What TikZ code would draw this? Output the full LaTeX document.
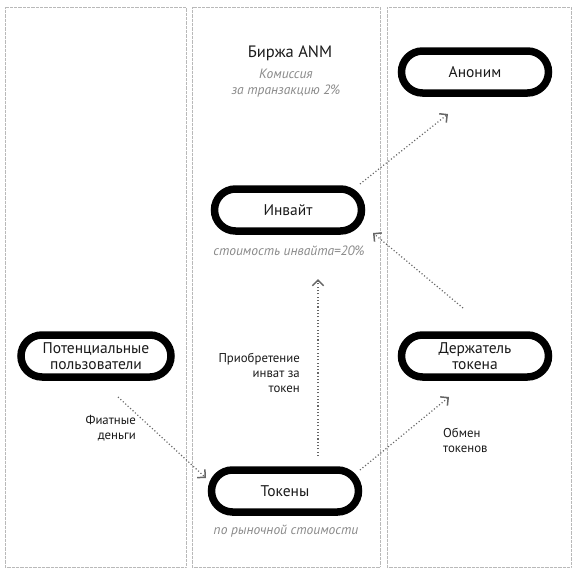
\documentclass[tikz,border=0pt]{standalone}
\usepackage{fontspec}
\setmainfont{PT Sans}
\usetikzlibrary{arrows.meta}
\definecolor{lbl}{HTML}{8A8A8A}
\definecolor{txt}{HTML}{1A1A1A}
\tikzset{
  pill/.style={draw=black, line width=7.5pt, rounded corners=21pt, minimum width=147pt, minimum height=42pt, fill=white, inner sep=0pt, font=\fontsize{15.5}{16}\selectfont, text=txt, align=center},
  colbox/.style={draw=gray!55, line width=0.8pt, dash pattern=on 0.5pt off 0.8pt},
  flow/.style={draw=gray!80!black, line width=1.2pt, dash pattern=on 1.1pt off 2.2pt, -{Straight Barb[angle=90:8pt, line width=1.5pt, sep=0pt]}},
  note/.style={font=\fontsize{13.5}{15.5}\selectfont\itshape, text=lbl, align=center, inner sep=0pt},
  caplabel/.style={font=\fontsize{12.8}{15}\selectfont, text=txt, inner sep=0pt}
}
\begin{document}
\begin{tikzpicture}[x=1pt,y=-1pt]
\useasboundingbox (0,0) rectangle (576,576);
\fill[white] (0,0) rectangle (576,576);
% columns
\draw[colbox] (5,7) rectangle (186,567);
\draw[colbox] (192,7) rectangle (380,567);
\draw[colbox] (387,7) rectangle (571,567);
% nodes
\node[pill] (anon) at (475,72) {Аноним};
\node[pill] (inv) at (288,210) {Инвайт};
\node[pill, minimum width=150pt] (users) at (96,356) {Потенциальные\\пользователи};
\node[pill] (holder) at (475,356) {Держатель\\токена};
\node[pill] (tok) at (285,491) {Токены};
% texts
\node[font=\fontsize{16.5}{18}\selectfont, text=txt, inner sep=0pt] (birzha) at (290,53) {Биржа ANM};
\node[note] (kom) at (286,83) {Комиссия\\за транзакцию 2\%};
\node[note] (invcost) at (289,251) {стоимость инвайта=20\%};
\node[note] (market) at (286,531) {по рыночной стоимости};
\node[caplabel, align=right, anchor=north east] (buy) at (300,353) {Приобретение\\инват за\\токен};
\node[caplabel, align=right, anchor=north east] (fiat) at (136,415) {Фиатные\\деньги};
\node[caplabel, align=left, anchor=north west] (swap) at (443,428) {Обмен\\токенов};
% connector anchors
\coordinate (a1s) at (360,184);
\coordinate (a1e) at (448,114);
\coordinate (a2s) at (463,308);
\coordinate (a2e) at (373,233);
\coordinate (a3s) at (318,456);
\coordinate (a3e) at (318,279);
\coordinate (a4s) at (118,397);
\coordinate (a4e) at (206,478);
\coordinate (a5s) at (360,470);
\coordinate (a5e) at (449,397);
\draw[flow] (a1s) -- (a1e);
\draw[flow] (a2s) -- (a2e);
\draw[flow] (a3s) -- (a3e);
\draw[flow] (a4s) -- (a4e);
\draw[flow] (a5s) -- (a5e);
\end{tikzpicture}
\end{document}
